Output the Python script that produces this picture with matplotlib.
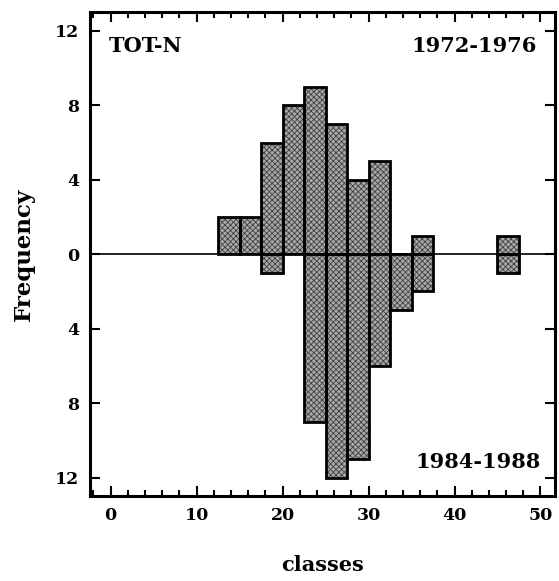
import matplotlib.pyplot as plt
import numpy as np
from matplotlib.ticker import MultipleLocator

# class edges (left) of width 2.5
class_left = [12.5, 15, 17.5, 20, 22.5, 25, 27.5, 30, 32.5, 35, 45]
freq_1972 = [2, 2, 6, 8, 9, 7, 4, 5, 0, 1, 1]
freq_1984 = [0, 0, 1, 0, 9, 12, 11, 6, 3, 2, 1]
width = 2.5

ytick_pos = [-12, -8, -4, 0, 4, 8, 12]
ytick_lab = ["12", "8", "4", "0", "4", "8", "12"]

plt.rcParams["font.family"] = "DejaVu Serif"
plt.rcParams["font.weight"] = "bold"
plt.rcParams["axes.labelweight"] = "bold"
plt.rcParams["hatch.linewidth"] = 0.6

fig = plt.figure(figsize=(5.59, 5.81), dpi=100)
ax = fig.add_axes([0.161, 0.146, 0.832, 0.833])

x = np.array(class_left)
up = np.array(freq_1972)
down = -np.array(freq_1984)

for vals in (up, down):
    mask = vals != 0
    # fill with a fine checkered texture, then outline
    ax.bar(x[mask], vals[mask], width, align="edge", color="#a8a8a8",
           hatch="xxxxxx", edgecolor="#404040", linewidth=0, zorder=2)
    ax.bar(x[mask], vals[mask], width, align="edge", fill=False,
           edgecolor="black", linewidth=2.0, zorder=3)

ax.axhline(0, color="black", linewidth=1.2, zorder=4)

ax.set_xlim(-2.4, 51.7)
ax.set_ylim(-13, 13)
ax.set_yticks(ytick_pos)
ax.set_yticklabels(ytick_lab)
ax.xaxis.set_major_locator(MultipleLocator(10))
ax.xaxis.set_minor_locator(MultipleLocator(2))
ax.tick_params(which="both", direction="in", top=True, right=True,
               labelsize=12.5, width=1.5)
ax.tick_params(which="major", length=7, pad=8)
ax.tick_params(which="minor", length=4)
for sp in ax.spines.values():
    sp.set_linewidth(2.2)

ax.text(0.04, 0.93, "TOT-N", transform=ax.transAxes, fontsize=15,
        ha="left", va="center")
ax.text(0.96, 0.93, "1972-1976", transform=ax.transAxes, fontsize=15,
        ha="right", va="center")
ax.text(0.97, 0.07, "1984-1988", transform=ax.transAxes, fontsize=15,
        ha="right", va="center")

ax.set_xlabel("classes", fontsize=15, labelpad=22)
ax.set_ylabel("Frequency", fontsize=16.5, labelpad=14)

fig.savefig("out.png", dpi=100)
